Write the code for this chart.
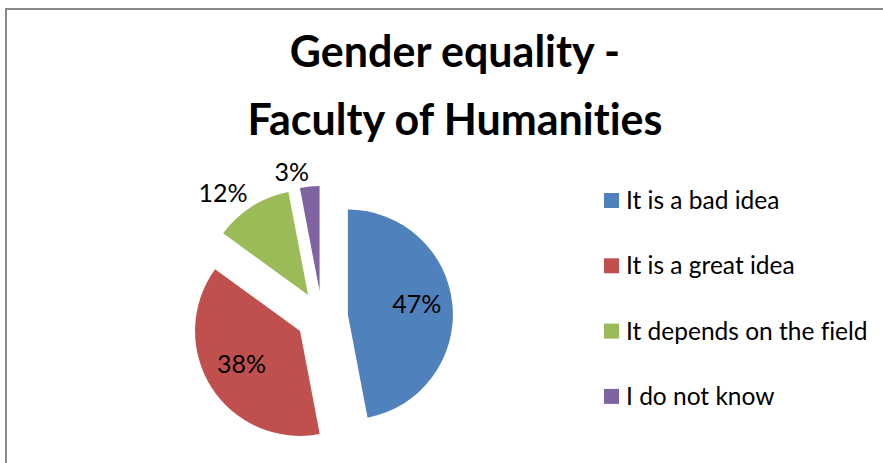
<!DOCTYPE html>
<html>
<head>
<meta charset="utf-8">
<script src="https://cdn.jsdelivr.net/npm/d3@7"></script>
<style>
  body { margin: 0; background: #fff; }
  svg { display: block; font-family: Lato, "Open Sans", sans-serif; font-variant-ligatures: none; }
</style>
</head>
<body>
<div id="chart"></div>
<script>
var width = 883,
  height = 463;

// data
var categories = [
  "It is a bad idea",
  "It is a great idea",
  "It depends on the field",
  "I do not know"
];
var values = [47, 38, 12, 3];
var colors = ["#4f81bd", "#c0504d", "#9bbb59", "#8064a2"];
var titleLines = ["Gender equality -", "Faculty of Humanities"];

var cx = 322,
  cy = 317,
  radius = 105,
  explode = 26;

var svg = d3
  .select("#chart")
  .append("svg")
  .attr("width", width)
  .attr("height", height);

// chart frame
svg
  .append("path")
  .attr("d", "M6," + height + "V9H" + width)
  .attr("fill", "none")
  .attr("stroke", "#888")
  .attr("stroke-width", 2);

svg
  .selectAll(".title")
  .data(titleLines)
  .enter()
  .append("text")
  .attr("class", "title")
  .attr("x", 455)
  .attr("y", function(d, i) {
    return 67 + i * 68;
  })
  .attr("text-anchor", "middle")
  .style("font-size", "43px")
  .style("font-weight", 700)
  .style("fill", "#000")
  .text(function(d) {
    return d;
  });

var pie = d3
  .pie()
  .sort(null)
  .value(function(d) {
    return d;
  });

var arc = d3
  .arc()
  .innerRadius(0)
  .outerRadius(radius);

var arcs = pie(values);

function mid(d) {
  return (d.startAngle + d.endAngle) / 2;
}

var slice = svg
  .append("g")
  .attr("transform", "translate(" + cx + "," + cy + ")")
  .selectAll(".slice")
  .data(arcs)
  .enter()
  .append("g")
  .attr("class", "slice")
  .attr("transform", function(d) {
    var a = mid(d);
    return "translate(" + Math.sin(a) * explode + "," + -Math.cos(a) * explode + ")";
  });

slice
  .append("path")
  .attr("d", arc)
  .style("fill", function(d, i) {
    return colors[i];
  });

slice
  .append("text")
  .attr("x", function(d) {
    var a = mid(d);
    var big = d.value >= 20;
    var r = big ? radius * 0.66 : radius + 8;
    return Math.sin(a) * r;
  })
  .attr("y", function(d) {
    var a = mid(d);
    var big = d.value >= 20;
    var r = big ? radius * 0.66 : radius + 8;
    return -Math.cos(a) * r + (big ? 5 : 2);
  })
  .attr("text-anchor", function(d) {
    return d.value >= 20 ? "middle" : "end";
  })
  .style("font-size", "25px")
  .style("fill", "#000")
  .text(function(d) {
    return d.value + "%";
  });

var legend = svg
  .selectAll(".legend")
  .data(categories)
  .enter()
  .append("g")
  .attr("class", "legend")
  .attr("transform", function(d, i) {
    return "translate(604," + (193 + i * 65.3) + ")";
  });

legend
  .append("rect")
  .attr("width", 15)
  .attr("height", 15)
  .style("fill", function(d, i) {
    return colors[i];
  });

legend
  .append("text")
  .attr("x", 22)
  .attr("y", 16)
  .style("font-size", "24.5px")
  .style("fill", "#000")
  .text(function(d) {
    return d;
  });
</script>
</body>
</html>
